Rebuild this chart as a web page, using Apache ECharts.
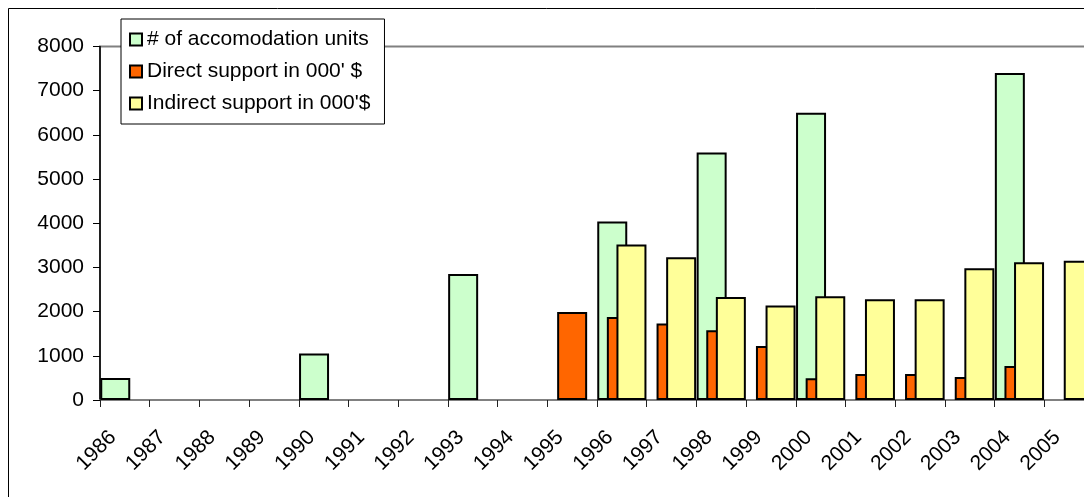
<!DOCTYPE html>
<html>
<head>
<meta charset="utf-8">
<script src="https://cdn.jsdelivr.net/npm/echarts@6/dist/echarts.min.js"></script>
<style>
  html, body { margin: 0; padding: 0; background: #fff; }
  #chart { width: 1084px; height: 497px; }
</style>
</head>
<body>
<div id="chart"></div>
<script>
// Years on the category axis
const years = ['1986', '1987', '1988', '1989', '1990', '1991', '1992', '1993', '1994', '1995',
               '1996', '1997', '1998', '1999', '2000', '2001', '2002', '2003', '2004', '2005'];

// Number of accommodation units built (null = no bar)
const accommodationUnits = [500, null, null, null, 1050, null, null, 2850, null, null,
                            4040, null, 5600, null, 6500, null, null, null, 7400, null];

// Direct support, thousands of dollars
const directSupport = [null, null, null, null, null, null, null, null, null, 1990,
                       1880, 1730, 1580, 1220, 490, 590, 590, 520, 770, null];

// Indirect support, thousands of dollars
const indirectSupport = [null, null, null, null, null, null, null, null, null, null,
                         3520, 3230, 2330, 2140, 2350, 2280, 2280, 2980, 3120, 3150];

// Value axis ticks
const yMin = 0, yMax = 8000, yStep = 1000;

const seriesNames = ['# of accomodation units', 'Direct support in 000\' $', 'Indirect support in 000\'$'];
const seriesColors = ['#CCFFCC', '#FF6600', '#FFFF99'];
const seriesData = [accommodationUnits, directSupport, indirectSupport];

const FONT = 'Liberation Sans, Arial, sans-serif';

const chart = echarts.init(document.getElementById('chart'), null, { renderer: 'canvas' });

chart.setOption({
  animation: false,
  backgroundColor: '#ffffff',
  graphic: [{
    type: 'rect',
    silent: true,
    z: -10,
    shape: { x: 8.5, y: 8.5, width: 1300, height: 700 },
    style: { fill: 'none', stroke: '#000000', lineWidth: 1 }
  }],
  legend: {
    orient: 'vertical',
    left: 121,
    top: 19,
    backgroundColor: '#ffffff',
    borderColor: '#000000',
    borderWidth: 1,
    padding: [10, 14, 10, 8],
    itemGap: 11,
    itemWidth: 12,
    itemHeight: 12,
    icon: 'rect',
    textStyle: { fontFamily: FONT, fontSize: 21, color: '#000000', lineHeight: 20 },
    data: seriesNames
  },
  // plot area runs past the right edge of the canvas
  grid: {
    left: 100,
    top: 46.5,
    width: 994,
    height: 353.5,
    outerBoundsMode: 'none',
    containLabel: false,
    show: true,
    borderColor: '#808080',
    borderWidth: 2
  },
  xAxis: {
    type: 'category',
    data: years,
    boundaryGap: true,
    axisLine: { show: true, lineStyle: { color: '#808080', width: 2 } },
    axisTick: { show: true, length: 7, lineStyle: { color: '#222222', width: 1 } },
    axisLabel: {
      interval: 0,
      rotate: 45,
      margin: 22,
      padding: [0, 17, 0, 0],
      fontFamily: FONT,
      fontSize: 21,
      color: '#000000'
    },
    splitLine: { show: false }
  },
  yAxis: {
    type: 'value',
    min: yMin,
    max: yMax,
    interval: yStep,
    axisLine: { show: true, lineStyle: { color: '#000000', width: 1.5 } },
    axisTick: { show: true, length: 7, lineStyle: { color: '#000000', width: 1 } },
    axisLabel: {
      margin: 16,
      fontFamily: FONT,
      fontSize: 21,
      color: '#000000',
      formatter: (v) => String(v)
    },
    splitLine: { show: false }
  },
  series: seriesNames.map((name, i) => ({
    name: name,
    type: 'bar',
    data: seriesData[i],
    barWidth: 30,
    barGap: '-68%',
    itemStyle: { color: seriesColors[i], borderColor: '#000000', borderWidth: 2 }
  }))
});
</script>
</body>
</html>
